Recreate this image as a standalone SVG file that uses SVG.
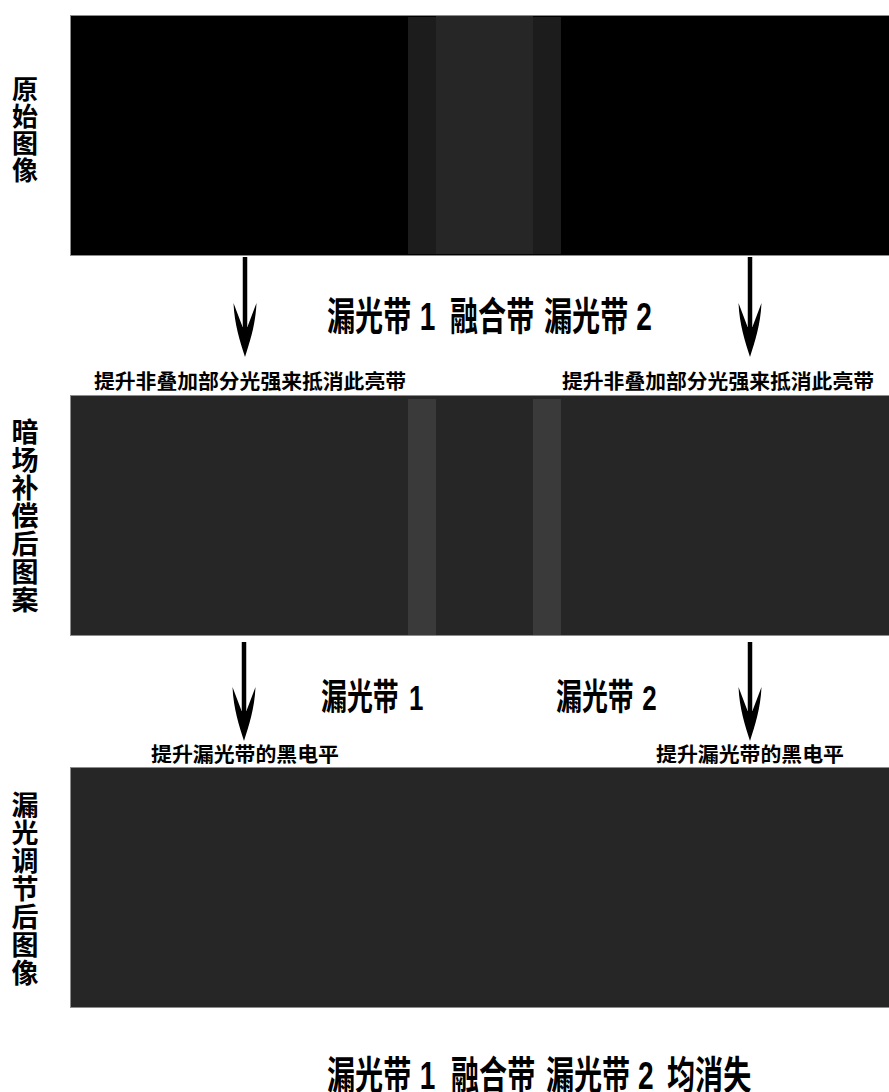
<svg xmlns="http://www.w3.org/2000/svg" width="889" height="1092" viewBox="0 0 889 1092">
<style>
  text { font-family: "Liberation Sans", "Noto Sans CJK SC", sans-serif; font-weight: bold; fill: #000; }
  .side { font-size: 27px; text-anchor: middle; }
  .side1 { font-size: 26px; text-anchor: middle; }
  .big { font-size: 39px; }
  .mid { font-size: 36px; }
  .small { font-size: 20px; }
  .panel { stroke: #8c8c8c; stroke-width: 1; }
  .shaft { stroke: #000; stroke-width: 4.5; fill: none; }
</style>
<defs>
  <path id="head" d="M -2.4,24 L -11.5,0 C -10.5,22 -5,38 0,54 C 5,38 10.5,22 11.5,0 L 2.4,24 Z" fill="#000"/>
</defs>
<rect width="889" height="1092" fill="#fff"/>

<g id="panel-original">
  <rect class="panel" x="70.5" y="15.5" width="819" height="240" fill="#000"/>
  <rect x="408" y="17" width="28" height="237" fill="#1c1c1c"/>
  <rect x="436" y="16" width="97" height="238" fill="#262626"/>
  <rect x="533" y="17" width="28" height="237" fill="#1c1c1c"/>
</g>
<g id="panel-compensated">
  <rect class="panel" x="70.5" y="395.5" width="819" height="240" fill="#262626"/>
  <rect x="408" y="399" width="28" height="236" fill="#3a3a3a"/>
  <rect x="533" y="399" width="28" height="236" fill="#3a3a3a"/>
</g>
<g id="panel-adjusted">
  <rect class="panel" x="70.5" y="767.5" width="819" height="240" fill="#262626"/>
</g>

<g id="label-original">
  <text class="side1"><tspan x="25" y="99">原</tspan><tspan x="25" y="126">始</tspan><tspan x="25" y="153">图</tspan><tspan x="25" y="180">像</tspan></text>
</g>
<g id="label-compensated">
  <text class="side"><tspan x="25" y="442">暗</tspan><tspan x="25" y="470">场</tspan><tspan x="25" y="498">补</tspan><tspan x="25" y="526">偿</tspan><tspan x="25" y="554">后</tspan><tspan x="25" y="582">图</tspan><tspan x="25" y="610">案</tspan></text>
</g>
<g id="label-adjusted">
  <text class="side"><tspan x="25" y="815">漏</tspan><tspan x="25" y="843">光</tspan><tspan x="25" y="871">调</tspan><tspan x="25" y="899">节</tspan><tspan x="25" y="927">后</tspan><tspan x="25" y="955">图</tspan><tspan x="25" y="983">像</tspan></text>
</g>

<g id="connectors">
  <line class="shaft" x1="245" y1="257" x2="245" y2="330"/>
  <use href="#head" transform="translate(245,303)"/>
  <line class="shaft" x1="750" y1="257" x2="750" y2="330"/>
  <use href="#head" transform="translate(750,303)"/>
  <line class="shaft" x1="244" y1="642" x2="244" y2="714"/>
  <use href="#head" transform="translate(244,687)"/>
  <line class="shaft" x1="750" y1="642" x2="750" y2="714"/>
  <use href="#head" transform="translate(750,687)"/>
</g>

<g id="title-top">
  <text class="big" transform="translate(0,330) scale(0.72,1)"><tspan x="454.2">漏光带</tspan><tspan x="572"> 1</tspan><tspan x="614.2"> 融合带</tspan><tspan x="744.8"> 漏光带</tspan><tspan x="873"> 2</tspan></text>
</g>
<g id="note-top-left">
  <text class="small" x="94" y="389" textLength="312" lengthAdjust="spacingAndGlyphs">提升非叠加部分光强来抵消此亮带</text>
</g>
<g id="note-top-right">
  <text class="small" x="562" y="389" textLength="312" lengthAdjust="spacingAndGlyphs">提升非叠加部分光强来抵消此亮带</text>
</g>

<g id="label-band1">
  <text class="mid" transform="translate(0,710) scale(0.72,1)"><tspan x="445.8">漏光带</tspan><tspan x="558"> 1</tspan></text>
</g>
<g id="label-band2">
  <text class="mid" transform="translate(0,710) scale(0.72,1)"><tspan x="772.2">漏光带</tspan><tspan x="882"> 2</tspan></text>
</g>
<g id="note-mid-left">
  <text class="small" x="151" y="762" textLength="188" lengthAdjust="spacingAndGlyphs">提升漏光带的黑电平</text>
</g>
<g id="note-mid-right">
  <text class="small" x="656" y="762" textLength="188" lengthAdjust="spacingAndGlyphs">提升漏光带的黑电平</text>
</g>

<g id="title-bottom">
  <text class="big" transform="translate(0,1089) scale(0.72,1)"><tspan x="454.2">漏光带</tspan><tspan x="572"> 1</tspan><tspan x="615.6"> 融合带</tspan><tspan x="747.5"> 漏光带</tspan><tspan x="875.3"> 2</tspan><tspan x="915.6"> 均消失</tspan></text>
</g>
</svg>
